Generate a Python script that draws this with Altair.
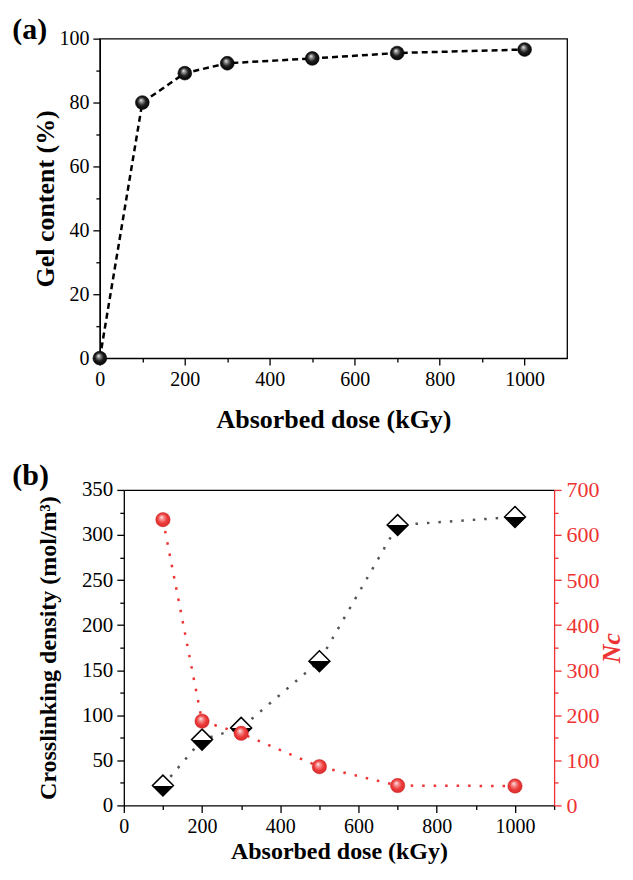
import altair as alt
import pandas as pd

# ---------------- data ----------------
dose_a = [0, 100, 200, 300, 500, 700, 1000]
gel_content = [0, 80, 89.2, 92.3, 93.8, 95.5, 96.6]

dose_b = [100, 200, 300, 500, 700, 1000]
crosslink_density = [22, 73, 86, 160, 311, 320]
nc_values = [634, 187, 160, 86, 44, 43]

x_ticks_a = list(range(0, 1001, 100))
x_ticks_b = list(range(0, 1101, 100))
gel_ticks = list(range(0, 101, 10))
cd_ticks = list(range(0, 351, 25))
nc_ticks = list(range(0, 701, 50))

FONT = "Liberation Serif"
RED = "#ee3333"


def cond_tick(step, major=7, minor=4):
    return {"condition": {"test": f"datum.value % {step} === 0", "value": major}, "value": minor}


def axis(**kw):
    base = dict(labelFont=FONT, labelFontSize=20, labelColor="black", format="d",
                titleFont=FONT, titleFontSize=26, titleFontWeight="bold", titleColor="black",
                domainColor="black", tickColor="black", domainWidth=1.3, tickWidth=1.3,
                grid=False, labelOverlap=False, labelFlush=False)
    base.update(kw)
    return alt.Axis(**base)


black_ball = alt.RadialGradient(
    gradient="radial",
    stops=[alt.GradientStop(color="#ffffff", offset=0),
           alt.GradientStop(color="#a0a0a0", offset=0.18),
           alt.GradientStop(color="#1e1e1e", offset=0.55),
           alt.GradientStop(color="#000000", offset=1)],
    x1=0.4, y1=0.32, r1=0, x2=0.5, y2=0.5, r2=0.55)

red_ball = alt.RadialGradient(
    gradient="radial",
    stops=[alt.GradientStop(color="#ffffff", offset=0),
           alt.GradientStop(color="#f7a0a0", offset=0.2),
           alt.GradientStop(color="#ee3a3a", offset=0.6),
           alt.GradientStop(color="#d62a2a", offset=1)],
    x1=0.4, y1=0.32, r1=0, x2=0.5, y2=0.5, r2=0.55)

half_diamond = alt.LinearGradient(
    gradient="linear",
    stops=[alt.GradientStop(color="#ffffff", offset=0),
           alt.GradientStop(color="#ffffff", offset=0.5),
           alt.GradientStop(color="#000000", offset=0.5),
           alt.GradientStop(color="#000000", offset=1)],
    x1=0, y1=0, x2=0, y2=1)

# ---------------- panel (a) ----------------
df_a = pd.DataFrame({"dose": dose_a, "gel": gel_content})

xa = alt.X("dose:Q", scale=alt.Scale(domain=[0, 1100], nice=False, zero=False),
           axis=axis(values=x_ticks_a,
                     labelExpr="datum.value % 200 === 0 ? datum.label : ''",
                     tickSize=cond_tick(200), labelPadding=4,
                     title="Absorbed dose (kGy)", titleY=48))
ya = alt.Y("gel:Q", scale=alt.Scale(domain=[0, 100], nice=False),
           axis=axis(values=gel_ticks,
                     labelExpr="datum.value % 20 === 0 ? datum.label : ''",
                     tickSize=cond_tick(20), labelPadding=4,
                     title="Gel content (%)", titleX=-41))

base_a = alt.Chart(df_a).encode(x=xa, y=ya)
line_a = base_a.mark_line(color="black", strokeWidth=2.5, strokeDash=[6, 4])
pts_a = base_a.mark_circle(size=190, opacity=1, fill=black_ball, stroke="black", strokeWidth=0.6)
lab_a = alt.Chart(pd.DataFrame({"t": ["(a)"]})).mark_text(
    align="left", baseline="middle", font=FONT, fontSize=30, fontWeight="bold",
    color="black", x=-87.7, y=-8.7).encode(text="t:N")

panel_a = alt.layer(line_a, pts_a, lab_a).properties(
    width=468, height=320,
    view=alt.ViewBackground(stroke="black", strokeWidth=1.3))

# ---------------- panel (b) ----------------
df_b = pd.DataFrame({"dose": dose_b, "cd": crosslink_density, "nc": nc_values})
xscale_b = alt.Scale(domain=[0, 1100], nice=False, zero=False)

xb = alt.X("dose:Q", scale=xscale_b,
           axis=axis(values=x_ticks_b,
                     labelExpr="datum.value % 200 === 0 && datum.value <= 1000 ? datum.label : ''",
                     tickSize=cond_tick(200), labelPadding=4,
                     title="Absorbed dose (kGy)", titleY=34, titleFontSize=24))
xb_top = alt.X("dose:Q", scale=xscale_b,
               axis=alt.Axis(orient="top", domainColor="black", domainWidth=1.3,
                             ticks=False, labels=False, title=None, grid=False))
yl = alt.Y("cd:Q", scale=alt.Scale(domain=[0, 350], nice=False),
           axis=axis(orient="left", values=cd_ticks,
                     labelExpr="datum.value % 50 === 0 ? datum.label : ''",
                     tickSize=cond_tick(50), labelPadding=4, labelFontSize=21,
                     title="Crosslinking density (mol/m³)", titleFontSize=24, titleX=-63))
yr = alt.Y("nc:Q", scale=alt.Scale(domain=[0, 700], nice=False),
           axis=axis(orient="right", values=nc_ticks,
                     labelExpr="datum.value % 100 === 0 ? datum.label : ''",
                     tickSize=cond_tick(100), labelPadding=5, labelFontSize=22,
                     labelColor=RED, domainColor=RED, tickColor=RED,
                     title="Nc", titleColor=RED, titleFontStyle="italic", titleFontSize=26,
                     titleAngle=270, titleBaseline="top", titleX=44))

base_cd = alt.Chart(df_b).encode(x=xb, y=yl)
line_cd = base_cd.mark_line(color="#555555", strokeWidth=2.5, strokeDash=[2.5, 9])
pts_cd = base_cd.mark_point(shape="diamond", size=440, filled=True, opacity=1,
                            fill=half_diamond, stroke="black", strokeWidth=1.5)

base_nc = alt.Chart(df_b).encode(x=xb_top, y=yr)
line_nc = base_nc.mark_line(color=RED, strokeWidth=2.5, strokeDash=[2.5, 9])
pts_nc = base_nc.mark_circle(size=210, opacity=1, fill=red_ball, stroke="#c02020", strokeWidth=0.4)

lab_b = alt.Chart(pd.DataFrame({"t": ["(b)"]})).mark_text(
    align="left", baseline="middle", font=FONT, fontSize=30, fontWeight="bold",
    color="black", x=-111.7, y=-14).encode(text="t:N")

panel_b = alt.layer(
    alt.layer(line_cd, pts_cd),
    alt.layer(line_nc, pts_nc),
    lab_b,
).resolve_scale(y="independent").resolve_axis(x="independent").properties(
    width=431, height=316,
    view=alt.ViewBackground(stroke="transparent"))


def spacer():
    return alt.Chart(pd.DataFrame({"v": [0]})).mark_point(
        opacity=0, size=0, strokeWidth=0
    ).encode(
        x=alt.X("v:Q", axis=None), y=alt.Y("v:Q", axis=None)
    ).properties(width=1, height=1)


row_a = alt.hconcat(spacer(), panel_a, spacing=0)
row_b = alt.hconcat(spacer(), panel_b, spacing=0)

chart = alt.vconcat(row_a, row_b, spacing=27).properties(
    padding={"left": 0, "top": 5, "right": 0, "bottom": 0}
).configure_view(stroke="transparent")

chart.save("out.html", embed_options={"renderer": "svg", "actions": False})
